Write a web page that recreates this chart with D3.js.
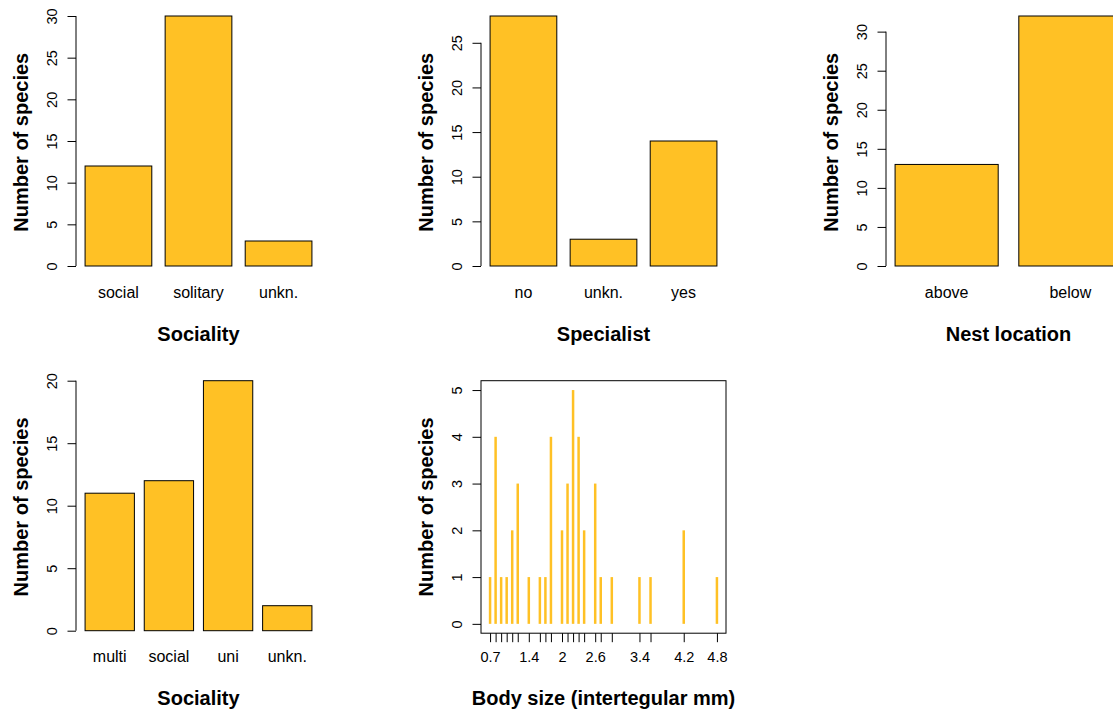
<!DOCTYPE html>
<html>
<head>
<meta charset="utf-8">
<script src="https://cdn.jsdelivr.net/npm/d3@7"></script>
<style>
  body { margin: 0; background: #fff; }
  svg { display: block; font-family: 'Liberation Sans', Arial, Helvetica, sans-serif; }
</style>
</head>
<body>
<div id="root"></div>
<script>
const socialityLabels = ['social', 'solitary', 'unkn.'];
const socialityCounts = [12, 30, 3];
const socialityTicks = [0, 5, 10, 15, 20, 25, 30];

const specialistLabels = ['no', 'unkn.', 'yes'];
const specialistCounts = [28, 3, 14];
const specialistTicks = [0, 5, 10, 15, 20, 25];

const nestLabels = ['above', 'below'];
const nestCounts = [13, 32];
const nestTicks = [0, 5, 10, 15, 20, 25, 30];

const socialityTypeLabels = ['multi', 'social', 'uni', 'unkn.'];
const socialityTypeCounts = [11, 12, 20, 2];
const socialityTypeTicks = [0, 5, 10, 15, 20];

const bodySizes = [0.7, 0.8, 0.9, 1.0, 1.1, 1.2, 1.4, 1.6, 1.7, 1.8, 2.0,
  2.1, 2.2, 2.3, 2.4, 2.6, 2.7, 2.9, 3.4, 3.6, 4.2, 4.8];
const bodySizeCounts = [1, 4, 1, 1, 2, 3, 1, 1, 1, 4, 2,
  3, 5, 4, 2, 3, 1, 1, 1, 1, 2, 1];
const bodySizeLabelled = [0.7, 1.4, 2, 2.6, 3.4, 4.2, 4.8];
const bodyCountTicks = [0, 1, 2, 3, 4, 5];

const barColor = '#FFC125';
const plotWidth = 245;
const plotHeight = 252.5;
const columnLefts = [76, 481, 886];
const rowTops = [16, 380.7];

const svg = d3.select('#root')
  .append('svg')
  .attr('width', 1113)
  .attr('height', 715);

function yAxisWithTitle(g, yScale, ticks) {
  const axis = d3.axisLeft(yScale)
    .tickValues(ticks)
    .tickFormat(d3.format('d'))
    .tickSize(8.5)
    .tickSizeOuter(0);
  const axisGroup = g.append('g').call(axis);
  axisGroup.select('.domain').remove();
  axisGroup.selectAll('.tick line').attr('stroke', '#000');
  axisGroup.selectAll('.tick text')
    .attr('transform', 'rotate(-90)')
    .attr('x', 0)
    .attr('y', -19)
    .attr('dy', 0)
    .attr('text-anchor', 'middle')
    .attr('font-size', 14.5)
    .attr('font-family', null)
    .attr('fill', '#000');
  return axisGroup;
}

function addTitles(g, xTitle) {
  g.append('text')
    .attr('transform', `translate(-48, ${plotHeight / 2}) rotate(-90)`)
    .attr('text-anchor', 'middle')
    .attr('font-size', 20)
    .attr('font-weight', 'bold')
    .text('Number of species');

  g.append('text')
    .attr('x', plotWidth / 2)
    .attr('y', plotHeight + 72)
    .attr('text-anchor', 'middle')
    .attr('font-size', 20)
    .attr('font-weight', 'bold')
    .text(xTitle);
}

function drawBarPanel(col, row, labels, counts, ticks, xTitle) {
  const g = svg.append('g')
    .attr('transform', `translate(${columnLefts[col]}, ${rowTops[row]})`);

  const n = labels.length;
  // R barplot: width 1, space 0.2, x range expanded by 4%
  const xScale = d3.scaleBand()
    .domain(labels)
    .range([0, plotWidth])
    .paddingInner(1 / 6)
    .paddingOuter(0.04 * (1.2 * n - 0.2) / 1.2);

  const maxCount = d3.max(counts);
  const yScale = d3.scaleLinear()
    .domain([-0.01 * maxCount, maxCount])
    .range([plotHeight, 0]);

  g.selectAll('rect.bar')
    .data(counts)
    .join('rect')
    .attr('class', 'bar')
    .attr('x', (d, i) => xScale(labels[i]))
    .attr('width', xScale.bandwidth())
    .attr('y', d => yScale(d))
    .attr('height', d => yScale(0) - yScale(d))
    .attr('fill', barColor)
    .attr('stroke', '#000')
    .attr('stroke-width', 1);

  const axisGroup = yAxisWithTitle(g, yScale, ticks);
  axisGroup.append('line')
    .attr('y1', yScale(ticks[0]))
    .attr('y2', yScale(ticks[ticks.length - 1]))
    .attr('stroke', '#000');

  g.selectAll('text.name')
    .data(labels)
    .join('text')
    .attr('class', 'name')
    .attr('x', d => xScale(d) + xScale.bandwidth() / 2)
    .attr('y', plotHeight + 29)
    .attr('text-anchor', 'middle')
    .attr('font-size', 16)
    .text(d => d);

  addTitles(g, xTitle);
}

function drawBodySizePanel(col, row) {
  const g = svg.append('g')
    .attr('transform', `translate(${columnLefts[col]}, ${rowTops[row]})`);

  const [xMin, xMax] = d3.extent(bodySizes);
  const xPad = 0.04 * (xMax - xMin);
  const xScale = d3.scaleLinear()
    .domain([xMin - xPad, xMax + xPad])
    .range([0, plotWidth]);

  const yMax = d3.max(bodySizeCounts);
  const yScale = d3.scaleLinear()
    .domain([-0.04 * yMax, yMax * 1.04])
    .range([plotHeight, 0]);

  g.selectAll('line.spike')
    .data(bodySizes)
    .join('line')
    .attr('class', 'spike')
    .attr('x1', d => xScale(d))
    .attr('x2', d => xScale(d))
    .attr('y1', yScale(0))
    .attr('y2', (d, i) => yScale(bodySizeCounts[i]))
    .attr('stroke', barColor)
    .attr('stroke-width', 2.5);

  g.append('rect')
    .attr('width', plotWidth)
    .attr('height', plotHeight)
    .attr('fill', 'none')
    .attr('stroke', '#000');

  yAxisWithTitle(g, yScale, bodyCountTicks);

  const xAxis = d3.axisBottom(xScale)
    .tickValues(bodySizes)
    .tickSize(9)
    .tickSizeOuter(0)
    .tickFormat(d => bodySizeLabelled.some(v => Math.abs(v - d) < 1e-9) ? String(d) : '');
  const xAxisGroup = g.append('g')
    .attr('transform', `translate(0, ${plotHeight})`)
    .call(xAxis);
  xAxisGroup.select('.domain').remove();
  xAxisGroup.selectAll('.tick line').attr('stroke', '#000');
  xAxisGroup.selectAll('.tick text')
    .attr('y', 29)
    .attr('dy', 0)
    .attr('font-size', 14.5)
    .attr('font-family', null)
    .attr('fill', '#000');

  addTitles(g, 'Body size (intertegular mm)');
}

drawBarPanel(0, 0, socialityLabels, socialityCounts, socialityTicks, 'Sociality');
drawBarPanel(1, 0, specialistLabels, specialistCounts, specialistTicks, 'Specialist');
drawBarPanel(2, 0, nestLabels, nestCounts, nestTicks, 'Nest location');
drawBarPanel(0, 1, socialityTypeLabels, socialityTypeCounts, socialityTypeTicks, 'Sociality');
drawBodySizePanel(1, 1);
</script>
</body>
</html>
